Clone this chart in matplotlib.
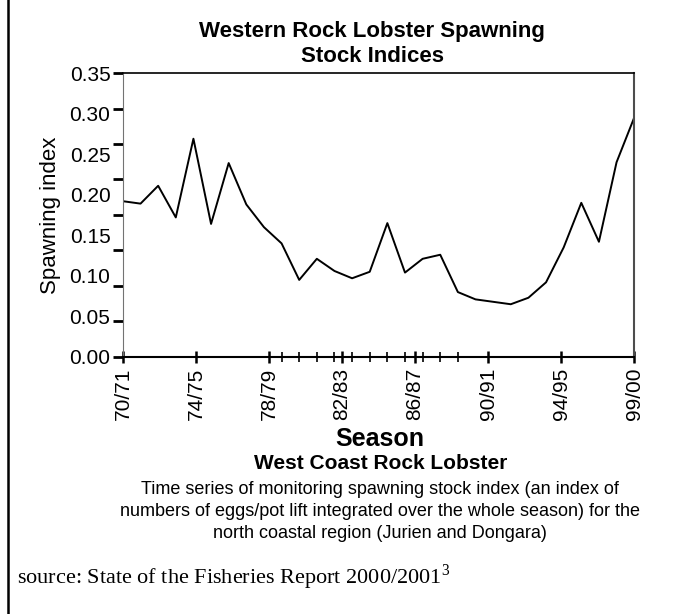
import numpy as np
import matplotlib.pyplot as plt
import matplotlib as mpl

mpl.rcParams['font.family'] = ['Liberation Sans', 'DejaVu Sans']

# seasons 70/71 .. 99/00, one index per season
season_idx = np.arange(30)
spawn_index = [0.192, 0.189, 0.211, 0.172, 0.269, 0.164, 0.239, 0.188, 0.160, 0.140,
               0.095, 0.121, 0.106, 0.097, 0.105, 0.165, 0.104, 0.121, 0.126, 0.080,
               0.071, 0.068, 0.065, 0.073, 0.092, 0.135, 0.190, 0.142, 0.240, 0.295]
season_labels = ['70/71', '74/75', '78/79', '82/83', '86/87', '90/91', '94/95', '99/00']
y_labels = ['0.00', '0.05', '0.10', '0.15', '0.20', '0.25', '0.30', '0.35']

fig = plt.figure(figsize=(6.79, 6.14), dpi=100)
ax = fig.add_axes([0.181, 0.4186, 0.753, 0.4625])

ax.plot(season_idx, spawn_index, c='k', lw=1.4)
ax.set_xlim(0, 29)
ax.set_ylim(0, 0.35)

# x axis: labels spread evenly over the axis, small ticks in the middle seasons
ax.set_xticks(np.linspace(0, 29, len(season_labels)))
ax.set_xticklabels(season_labels, rotation=90, fontsize=15)
ax.set_xticks(np.arange(9, 20), minor=True)
ax.tick_params(axis='x', which='major', direction='inout', length=9, width=1.8, pad=3)
ax.tick_params(axis='x', which='minor', direction='inout', length=7, width=1.2)

# y axis: tick marks and labels don't line up in the original
ax.yaxis.remove_overlapping_locs = False
yv = np.linspace(0, 0.35, len(y_labels))
ax.set_yticks(np.linspace(0, 0.35, 9))
ax.set_yticklabels([''] * 9)
ax.set_yticks(yv, minor=True)
ax.set_yticklabels(y_labels, minor=True, fontsize=15)
ax.tick_params(axis='y', which='major', direction='out', length=7, width=2)
ax.tick_params(axis='y', which='minor', length=0, pad=9)

ax.spines['left'].set_color('0.45')
ax.spines['left'].set_linewidth(0.8)
ax.spines['right'].set_color('0.3')
ax.spines['right'].set_linewidth(1.5)
ax.spines['bottom'].set_linewidth(1.5)
ax.spines['top'].set_linewidth(1.2)

ax.set_ylabel('Spawning index', fontsize=16, labelpad=6)

fig.text(0.548, 0.948, 'Western Rock Lobster Spawning', ha='center', va='center',
         fontsize=16, fontweight='bold')
fig.text(0.548, 0.908, 'Stock Indices', ha='center', va='center',
         fontsize=16, fontweight='bold')
fig.text(0.56, 0.285, 'Season', ha='center', va='center', fontsize=18, fontweight='bold')
fig.text(0.56, 0.245, 'West Coast Rock Lobster', ha='center', va='center',
         fontsize=15, fontweight='bold')
caption = ('Time series of monitoring spawning stock index (an index of\n'
           'numbers of eggs/pot lift integrated over the whole season) for the\n'
           'north coastal region (Jurien and Dongara)')
fig.text(0.56, 0.167, caption, ha='center', va='center', fontsize=13, linespacing=1.36)
fig.text(0.025, 0.06, r'source: State of the Fisheries Report 2000/2001$^{\mathregular{3}}$',
         ha='left', va='center', fontsize=16, family='Liberation Serif')

# frame line on the left side of the page
fig.add_artist(plt.Line2D([0.012, 0.012], [0, 1], transform=fig.transFigure, c='k', lw=1.8))

fig.savefig('out.png', dpi=100)
